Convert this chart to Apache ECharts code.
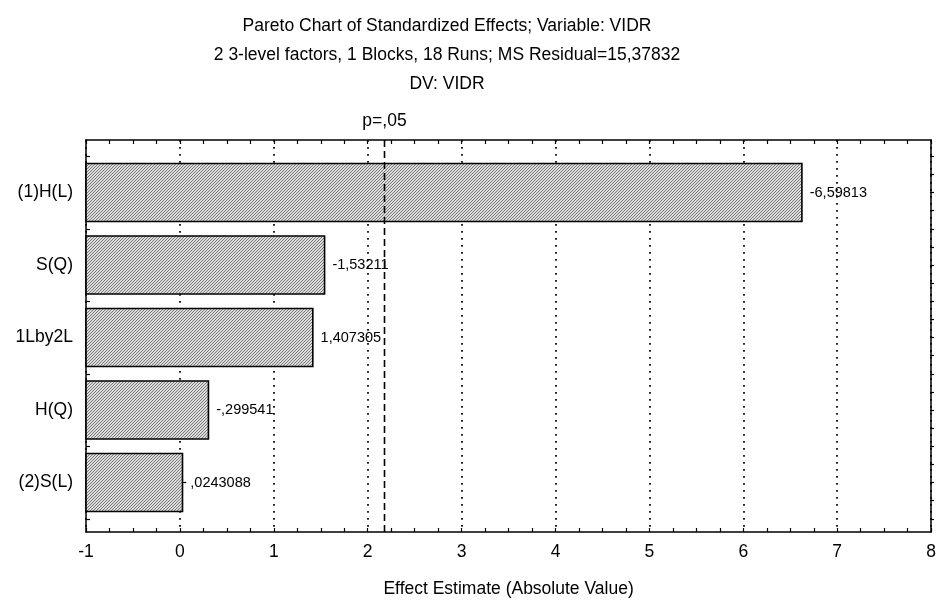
<!DOCTYPE html>
<html>
<head>
<meta charset="utf-8">
<title>Pareto Chart of Standardized Effects</title>
<script src="https://cdn.jsdelivr.net/npm/echarts@6/dist/echarts.min.js"></script>
<style>
  html, body { margin: 0; padding: 0; background: #fff; }
  #chart { width: 939px; height: 603px; }
</style>
</head>
<body>
<div id="chart"></div>
<script>
// Effects, listed top to bottom by absolute size
const factors = ['(1)H(L)', 'S(Q)', '1Lby2L', 'H(Q)', '(2)S(L)'];
const effects = [-6.59813, -1.53211, 1.407305, -0.299541, 0.0243088];
// critical t value for p = .05 (df = 12)
const tCrit = 2.178813;
const xTicks = [-1, 0, 1, 2, 3, 4, 5, 6, 7, 8];

const FONT = '"Liberation Sans", Arial, sans-serif';
const X_MIN = xTicks[0], X_MAX = xTicks[xTicks.length - 1];

// STATISTICA-style effect label: comma decimal, no leading zero
function fmt(v) {
  let s = String(Math.abs(v)).replace('.', ',');
  if (s.startsWith('0,')) s = s.slice(1);
  return (v < 0 ? '-' : '') + s;
}

// fine grey hatch used as bar fill
function hatch() {
  const c = document.createElement('canvas');
  c.width = 3; c.height = 3;
  const g = c.getContext('2d');
  g.fillStyle = '#dcdcdc';
  g.fillRect(0, 0, 3, 3);
  g.fillStyle = '#7a7a7a';
  for (let x = 0; x < 3; x++) {
    for (let y = 0; y < 3; y++) {
      if ((x + y) % 3 === 0) g.fillRect(x, y, 1, 1);
    }
  }
  return { image: c, repeat: 'repeat' };
}
const fill = hatch();

const chart = echarts.init(document.getElementById('chart'), null, { renderer: 'canvas' });

const frameGrid = { left: 86, right: 5, top: 140, bottom: 66 };
const barGrid = { left: 86, right: 5, top: 156.25, bottom: 84.25 };

const tickStyle = { lineStyle: { color: '#000', width: 1.2 } };

chart.setOption({
  animation: false,
  backgroundColor: '#fff',
  title: {
    text: 'Pareto Chart of Standardized Effects; Variable: VIDR\n2 3-level factors, 1 Blocks, 18 Runs; MS Residual=15,37832\nDV: VIDR',
    left: 442,
    top: 7,
    textAlign: 'center',
    textStyle: { fontFamily: FONT, fontSize: 17.5, fontWeight: 'normal', color: '#000', lineHeight: 29 }
  },
  grid: [
    Object.assign({ containLabel: false }, frameGrid),
    Object.assign({ containLabel: false }, barGrid)
  ],
  xAxis: [
    {
      gridIndex: 0, type: 'value', position: 'bottom',
      min: X_MIN, max: X_MAX, interval: 1,
      axisLine: { show: true, onZero: false, lineStyle: { color: '#000', width: 1.5 } },
      axisTick: Object.assign({ show: true, inside: true, length: 4 }, tickStyle),
      minorTick: Object.assign({ show: true, splitNumber: 4, length: 4 }, tickStyle),
      axisLabel: { show: true, color: '#000', fontFamily: FONT, fontSize: 17.5, margin: 11,
        formatter: v => xTicks.includes(v) ? String(v) : '' },
      splitLine: { show: true, lineStyle: { color: '#000', width: 1.7, type: [1.7, 5.3] } },
      name: 'Effect Estimate (Absolute Value)',
      nameLocation: 'middle', nameGap: 48,
      nameTextStyle: { color: '#000', fontFamily: FONT, fontSize: 17.5 }
    },
    {
      gridIndex: 0, type: 'value', position: 'top',
      min: X_MIN, max: X_MAX, interval: 1,
      axisLine: { show: true, onZero: false, lineStyle: { color: '#000', width: 1.5 } },
      axisTick: Object.assign({ show: true, inside: true, length: 4 }, tickStyle),
      minorTick: Object.assign({ show: true, splitNumber: 4, length: 4 }, tickStyle),
      axisLabel: { show: false },
      splitLine: { show: false }
    },
    {
      gridIndex: 1, type: 'value', min: X_MIN, max: X_MAX, show: false
    }
  ],
  yAxis: [
    {
      gridIndex: 0, type: 'value', min: 0, max: 1, position: 'left',
      axisLine: { show: true, onZero: false, lineStyle: { color: '#000', width: 1.5 } },
      axisTick: { show: false }, axisLabel: { show: false }, splitLine: { show: false }
    },
    {
      gridIndex: 0, type: 'value', min: 0, max: 1, position: 'right',
      axisLine: { show: true, onZero: false, lineStyle: { color: '#000', width: 1.5 } },
      axisTick: { show: false }, axisLabel: { show: false }, splitLine: { show: false }
    },
    {
      gridIndex: 1, type: 'category', data: factors, inverse: true, position: 'left',
      axisLine: { show: false },
      axisTick: Object.assign({ show: true, inside: true, length: 6, alignWithLabel: true }, tickStyle),
      axisLabel: { color: '#000', fontFamily: FONT, fontSize: 17.5, margin: 13 },
      splitLine: { show: false }
    },
    {
      gridIndex: 1, type: 'value', min: -0.5, max: 4.5, interval: 0.25, inverse: true, position: 'left',
      axisLine: { show: false },
      axisTick: Object.assign({ show: true, inside: true, length: 4 }, tickStyle),
      axisLabel: { show: false }, splitLine: { show: false }
    },
    {
      gridIndex: 1, type: 'value', min: -0.5, max: 4.5, interval: 0.25, inverse: true, position: 'right',
      axisLine: { show: false },
      axisTick: Object.assign({ show: true, inside: true, length: 4 }, tickStyle),
      axisLabel: { show: false }, splitLine: { show: false }
    }
  ],
  series: [
    {
      name: 'effects',
      type: 'custom',
      xAxisIndex: 2,
      yAxisIndex: 2,
      encode: { x: 0, y: 1 },
      data: effects.map((v, i) => [Math.abs(v), i, v]),
      renderItem: function (params, api) {
        const idx = api.value(1);
        const p0 = api.coord([X_MIN, idx]);
        const p1 = api.coord([api.value(0), idx]);
        const h = api.size([0, 1])[1] * 0.8;
        return {
          type: 'rect',
          shape: { x: p0[0], y: p0[1] - h / 2, width: p1[0] - p0[0], height: h },
          style: { fill: fill, stroke: '#000', lineWidth: 1.6 },
          textContent: {
            style: { text: fmt(effects[params.dataIndex]), fill: '#000', fontFamily: FONT, fontSize: 14.5 }
          },
          textConfig: { position: 'right', distance: 7 }
        };
      },
      z: 3
    },
    {
      name: 'p=,05',
      type: 'line',
      xAxisIndex: 0,
      yAxisIndex: 0,
      symbol: 'circle',
      symbolSize: 0,
      lineStyle: { color: '#000', width: 1.6, type: [7, 4] },
      data: [
        [tCrit, 0],
        { value: [tCrit, 1], label: { show: true, position: 'top', distance: 10, formatter: 'p=,05',
          color: '#000', fontFamily: FONT, fontSize: 17.5 } }
      ],
      z: 5
    }
  ]
});
</script>
</body>
</html>
